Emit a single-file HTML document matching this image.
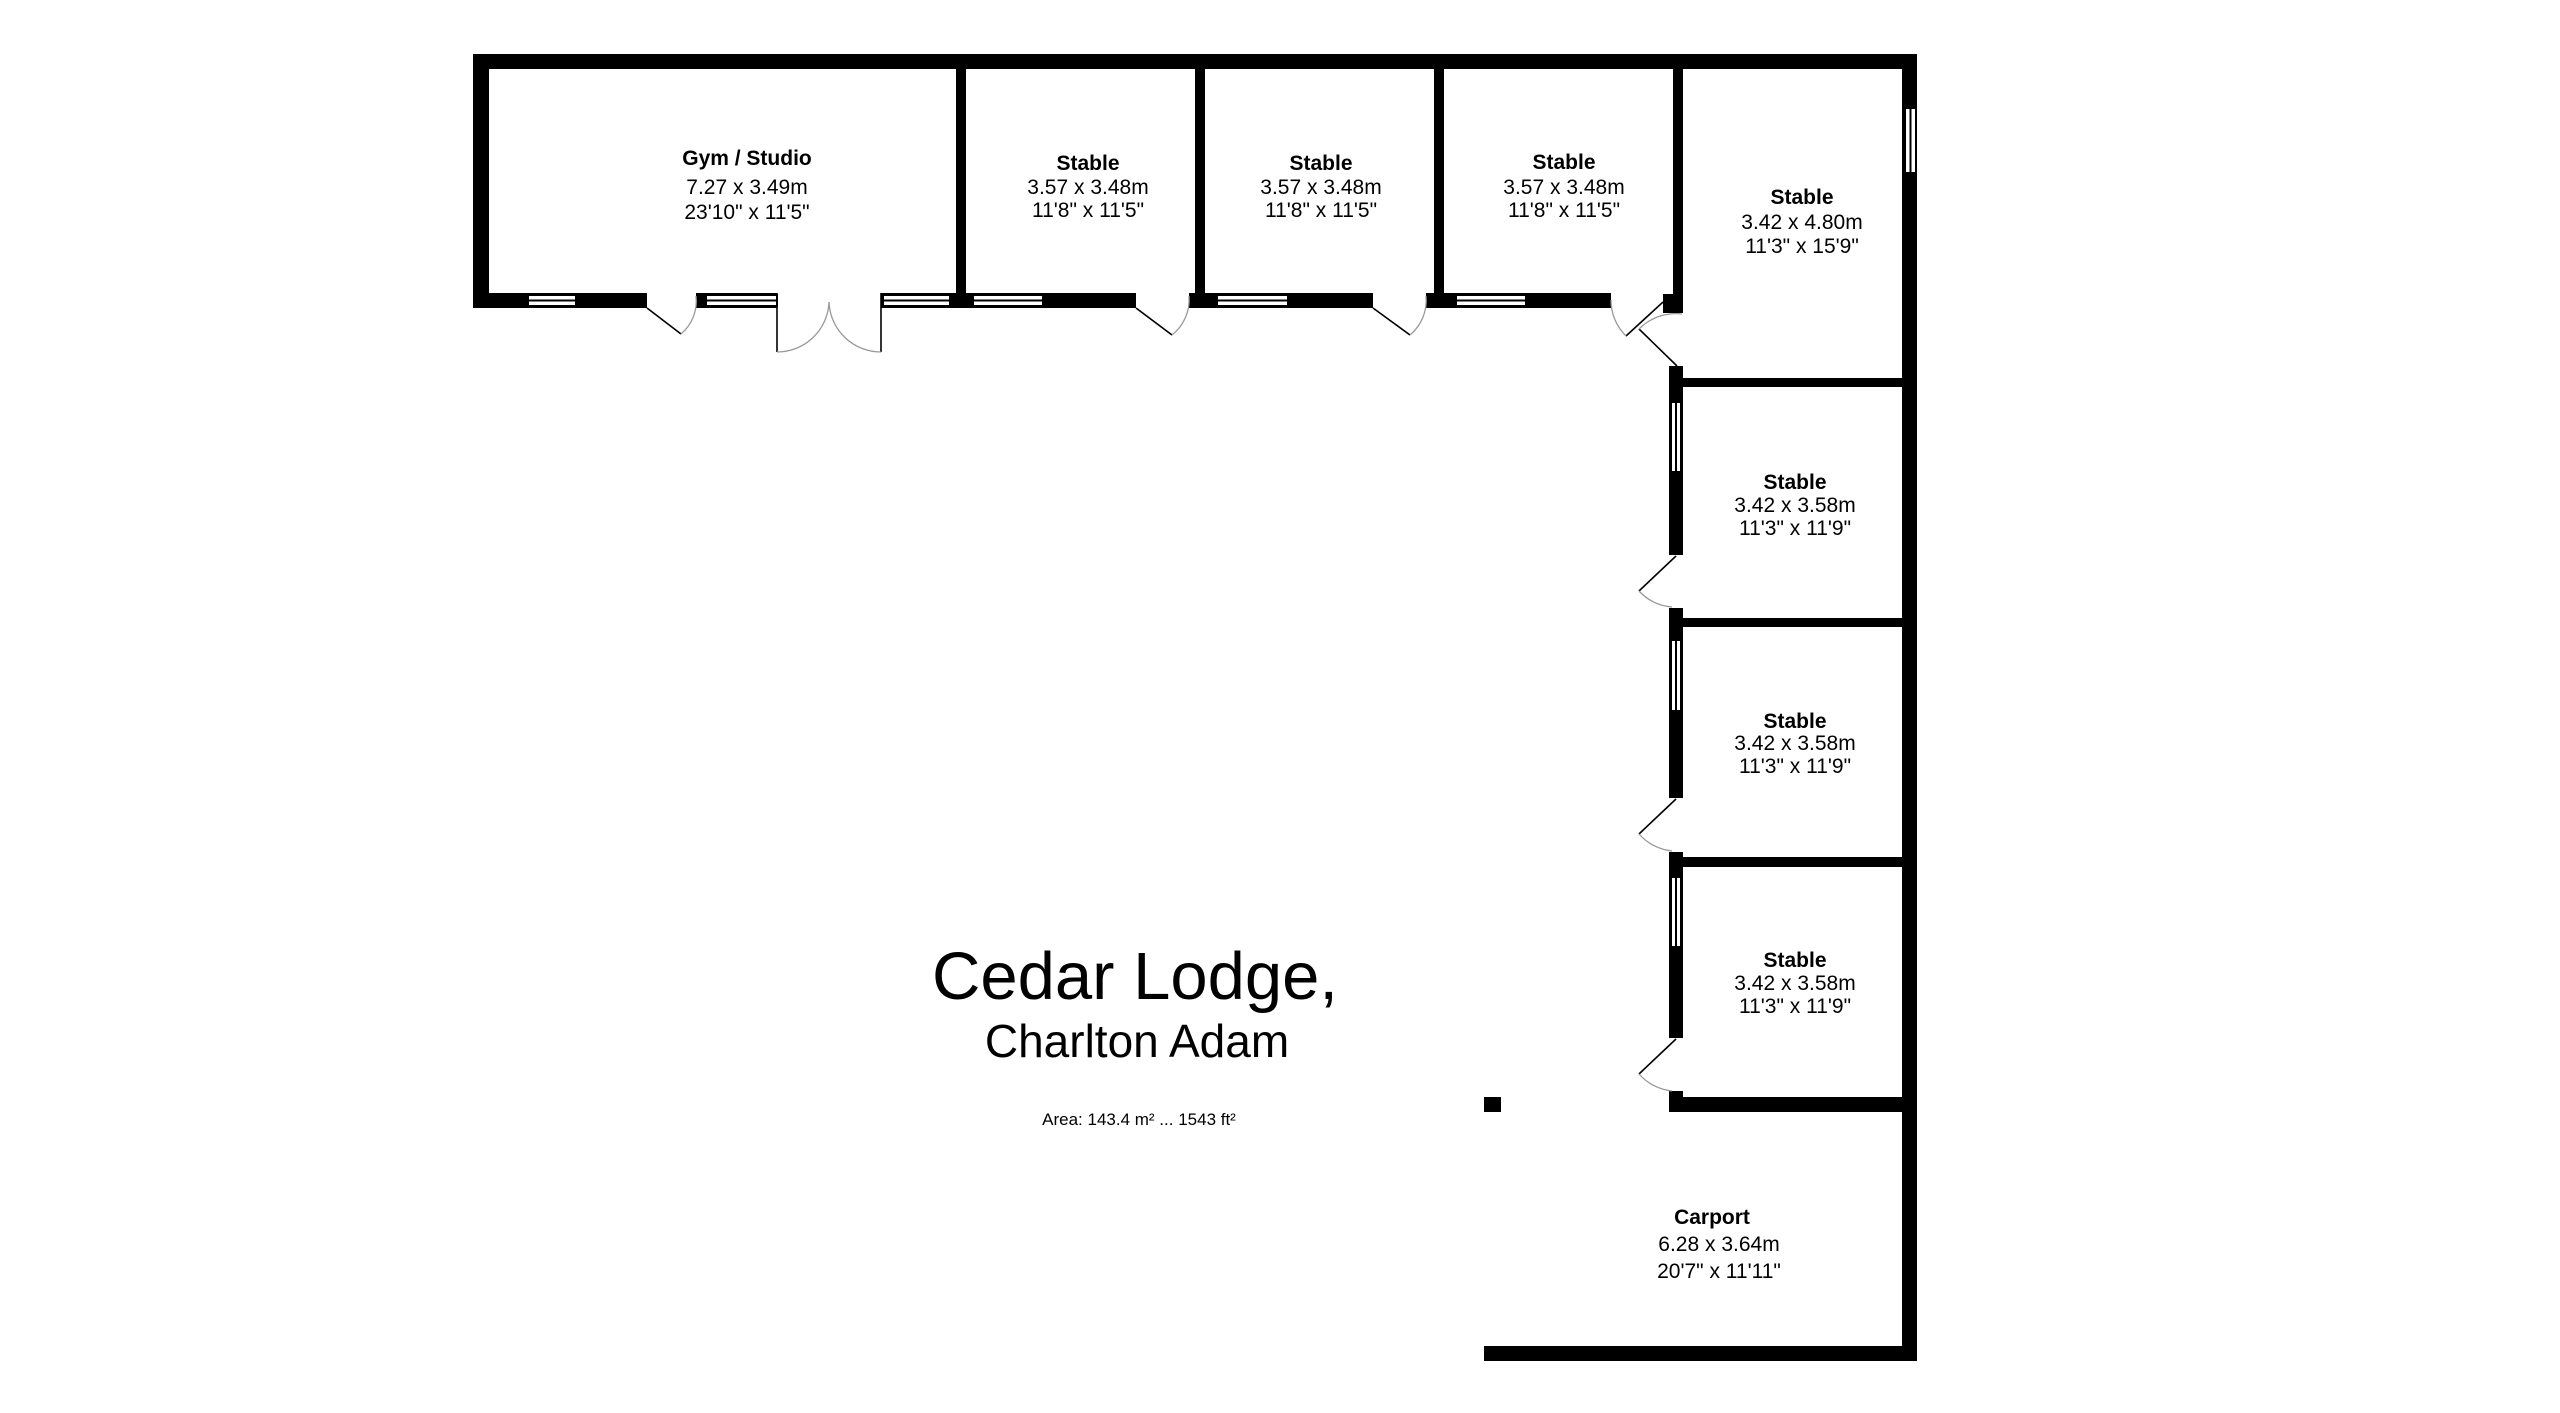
<!DOCTYPE html>
<html><head><meta charset="utf-8"><style>
html,body{margin:0;padding:0;background:#fff;}
svg{display:block;}
text{font-family:"Liberation Sans",Arial,sans-serif;fill:#000;}
.t{font-size:21px;font-weight:bold;}
.d{font-size:21px;}
</style></head><body>
<svg width="2560" height="1413" viewBox="0 0 2560 1413" xmlns="http://www.w3.org/2000/svg">
<rect width="2560" height="1413" fill="#fff"/>
<g fill="#000">
<rect x="473" y="54" width="1444" height="15"/>
<rect x="473" y="54" width="16" height="254"/>
<rect x="473" y="293" width="174" height="15"/>
<rect x="696" y="293" width="81" height="15"/>
<rect x="881" y="293" width="84" height="15"/>
<rect x="956" y="69" width="10" height="230"/>
<rect x="965" y="293" width="171" height="15"/>
<rect x="1195" y="69" width="10" height="230"/>
<rect x="1189" y="293" width="184" height="15"/>
<rect x="1434" y="69" width="10" height="230"/>
<rect x="1426" y="293" width="185" height="15"/>
<rect x="1673" y="69" width="10" height="230"/>
<rect x="1663" y="294" width="20" height="19"/>
<rect x="1902" y="54" width="15" height="1307"/>
<rect x="1669" y="366" width="14" height="189"/>
<rect x="1683" y="378" width="219" height="9"/>
<rect x="1669" y="608" width="14" height="190"/>
<rect x="1683" y="618" width="219" height="9"/>
<rect x="1669" y="852" width="14" height="186"/>
<rect x="1683" y="857" width="219" height="10"/>
<rect x="1669" y="1091" width="14" height="21"/>
<rect x="1669" y="1097" width="248" height="15"/>
<rect x="1484" y="1097" width="17" height="15"/>
<rect x="1484" y="1346" width="433" height="15"/>
</g>
<g fill="#fff" stroke="#000" stroke-width="2">
<rect x="528" y="295" width="48" height="11"/>
<rect x="706" y="295" width="71" height="11"/>
<rect x="883" y="295" width="67" height="11"/>
<rect x="973" y="295" width="70" height="11"/>
<rect x="1217" y="295" width="71" height="11"/>
<rect x="1456" y="295" width="70" height="11"/>
<rect x="1905" y="108" width="11" height="65"/>
<rect x="1671" y="402" width="10" height="70"/>
<rect x="1671" y="640" width="10" height="71"/>
<rect x="1671" y="877" width="10" height="70"/>
</g>
<g stroke="#000" stroke-width="2">
<line x1="528" y1="300.5" x2="576" y2="300.5"/>
<line x1="706" y1="300.5" x2="777" y2="300.5"/>
<line x1="883" y1="300.5" x2="950" y2="300.5"/>
<line x1="973" y1="300.5" x2="1043" y2="300.5"/>
<line x1="1217" y1="300.5" x2="1288" y2="300.5"/>
<line x1="1456" y1="300.5" x2="1526" y2="300.5"/>
<line x1="1910.5" y1="108" x2="1910.5" y2="173"/>
<line x1="1676" y1="402" x2="1676" y2="472"/>
<line x1="1676" y1="640" x2="1676" y2="711"/>
<line x1="1676" y1="877" x2="1676" y2="947"/>
</g>
<g stroke="#000" stroke-width="1.6" fill="none">
<line x1="647" y1="308" x2="681" y2="334"/>
<line x1="777" y1="293" x2="777" y2="352"/>
<line x1="881" y1="293" x2="881" y2="352"/>
<line x1="1136" y1="308" x2="1172" y2="335"/>
<line x1="1373" y1="308" x2="1410" y2="335"/>
<line x1="1663" y1="302" x2="1626" y2="336"/>
<line x1="1677" y1="366" x2="1639" y2="329"/>
<line x1="1676" y1="556" x2="1639" y2="591"/>
<line x1="1676" y1="799" x2="1639" y2="834"/>
<line x1="1676" y1="1039" x2="1639" y2="1074"/>
</g>
<g stroke="#999" stroke-width="1.3" fill="none">
<path d="M681 334 A43 43 0 0 0 696 296"/>
<path d="M777 352 A52 52 0 0 0 829 302"/>
<path d="M881 352 A52 52 0 0 1 829 302"/>
<path d="M1172 335 A45 45 0 0 0 1189 296"/>
<path d="M1410 335 A45 45 0 0 0 1426 296"/>
<path d="M1626 336 A50 50 0 0 1 1611 300"/>
<path d="M1639 329 A52 52 0 0 1 1682 314"/>
<path d="M1639 591 A51 51 0 0 0 1672 607"/>
<path d="M1639 834 A51 51 0 0 0 1672 851"/>
<path d="M1639 1074 A51 51 0 0 0 1672 1091"/>
</g>
<g text-anchor="middle">
<text class="t" x="747" y="165">Gym / Studio</text>
<text class="d" x="747" y="194">7.27 x 3.49m</text>
<text class="d" x="747" y="219">23'10" x 11'5"</text>
<text class="t" x="1088" y="170">Stable</text>
<text class="d" x="1088" y="194">3.57 x 3.48m</text>
<text class="d" x="1088" y="217">11'8" x 11'5"</text>
<text class="t" x="1321" y="170">Stable</text>
<text class="d" x="1321" y="194">3.57 x 3.48m</text>
<text class="d" x="1321" y="217">11'8" x 11'5"</text>
<text class="t" x="1564" y="169">Stable</text>
<text class="d" x="1564" y="194">3.57 x 3.48m</text>
<text class="d" x="1564" y="217">11'8" x 11'5"</text>
<text class="t" x="1802" y="204">Stable</text>
<text class="d" x="1802" y="229">3.42 x 4.80m</text>
<text class="d" x="1802" y="253">11'3" x 15'9"</text>
<text class="t" x="1795" y="489">Stable</text>
<text class="d" x="1795" y="512">3.42 x 3.58m</text>
<text class="d" x="1795" y="535">11'3" x 11'9"</text>
<text class="t" x="1795" y="728">Stable</text>
<text class="d" x="1795" y="750">3.42 x 3.58m</text>
<text class="d" x="1795" y="773">11'3" x 11'9"</text>
<text class="t" x="1795" y="967">Stable</text>
<text class="d" x="1795" y="990">3.42 x 3.58m</text>
<text class="d" x="1795" y="1013">11'3" x 11'9"</text>
<text class="t" x="1712" y="1224">Carport</text>
<text class="d" x="1719" y="1251">6.28 x 3.64m</text>
<text class="d" x="1719" y="1278">20'7" x 11'11"</text>
<text x="1135" y="999" style="font-size:67px">Cedar Lodge,</text>
<text x="1137" y="1057" style="font-size:46px">Charlton Adam</text>
<text x="1139" y="1125" style="font-size:17px">Area: 143.4 m² ... 1543 ft²</text>
</g>
</svg>
</body></html>
